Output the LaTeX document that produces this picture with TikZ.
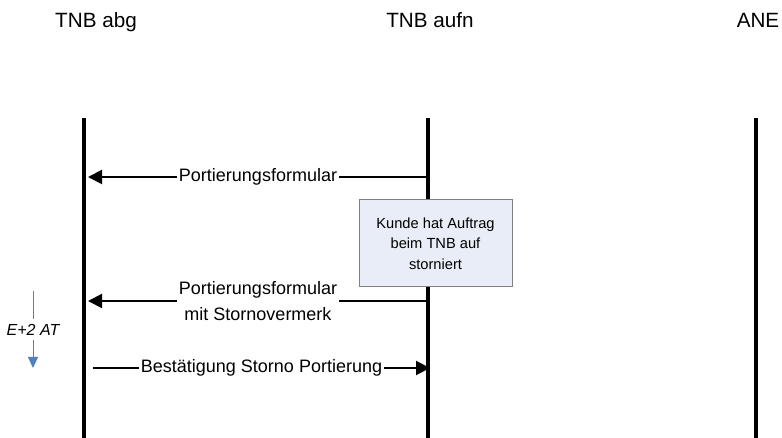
\documentclass[tikz,border=0pt]{standalone}
\usepackage{fontspec}
\setmainfont{Liberation Sans}
\usetikzlibrary{positioning}
\usetikzlibrary{arrows.meta}
\definecolor{notefill}{HTML}{E8EDF7}
\definecolor{noteline}{HTML}{7F7F7F}
\definecolor{timeblue}{HTML}{4F81BD}

\begin{document}
\begin{tikzpicture}[x=0.75pt, y=-0.75pt,
		head/.style={font=\fontsize{15.5}{18}\selectfont, anchor=base, inner sep=0pt},
		lifeline/.style={line width=3pt},
		msg/.style={line width=1.5pt, -{Triangle[length=10.5pt,width=10.5pt]}},
		lbl/.style={fill=white, inner sep=1.5pt, align=center, font=\fontsize{13.5}{19}\selectfont},
		note/.style={draw=noteline, fill=notefill, line width=0.75pt, align=center,
			minimum width=114.75pt, minimum height=65.25pt, inner sep=0pt,
			font=\fontsize{11}{15.4}\selectfont},
		timeline/.style={draw=timeblue, line width=0.75pt, -{Triangle[length=8.25pt,width=7.5pt]}},
]
\useasboundingbox (0,0) rectangle (782,438);

% participants
\node[head] (abg) at (96,27.7) {TNB abg};
\node[head] (aufn) at (430,27.7) {TNB aufn};
\node[head] (ane) at (758,27.7) {ANE};

% lifelines
\coordinate (abgtop) at (84,118);
\coordinate (abgbot) at (84,438);
\coordinate (aufntop) at (428,118);
\coordinate (aufnbot) at (428,438);
\coordinate (anetop) at (756,118);
\coordinate (anebot) at (756,438);

\draw[lifeline] (abgtop) -- (abgbot);
\draw[lifeline] (aufntop) -- (aufnbot);
\draw[lifeline] (anetop) -- (anebot);

% messages
\coordinate (m1s) at (428,177);
\coordinate (m1e) at (88,177);
\coordinate (m2s) at (428,301);
\coordinate (m2e) at (88,301);
\coordinate (m3s) at (93,368);
\coordinate (m3e) at (430,368);

\draw[msg] (m1s) -- node[lbl] (m1) {Portierungsformular} (m1e);
\draw[msg] (m2s) -- node[lbl] (m2) {Portierungsformular\\mit Stornovermerk} (m2e);
\draw[msg] (m3s) -- node[lbl] (m3) {Bestätigung Storno Portierung} (m3e);

% note on TNB aufn
\node[note] (storno) at (435.5,243.5) {Kunde hat Auftrag\\beim TNB auf\\storniert};

% deadline
\coordinate (ts) at (33,291);
\coordinate (te) at (33,368);
\draw[timeline] (ts) -- node[fill=white, inner sep=3.5pt, text=black, font=\fontsize{12}{14}\selectfont\itshape] (frist) {E+2 AT} (te);

\end{tikzpicture}
\end{document}
